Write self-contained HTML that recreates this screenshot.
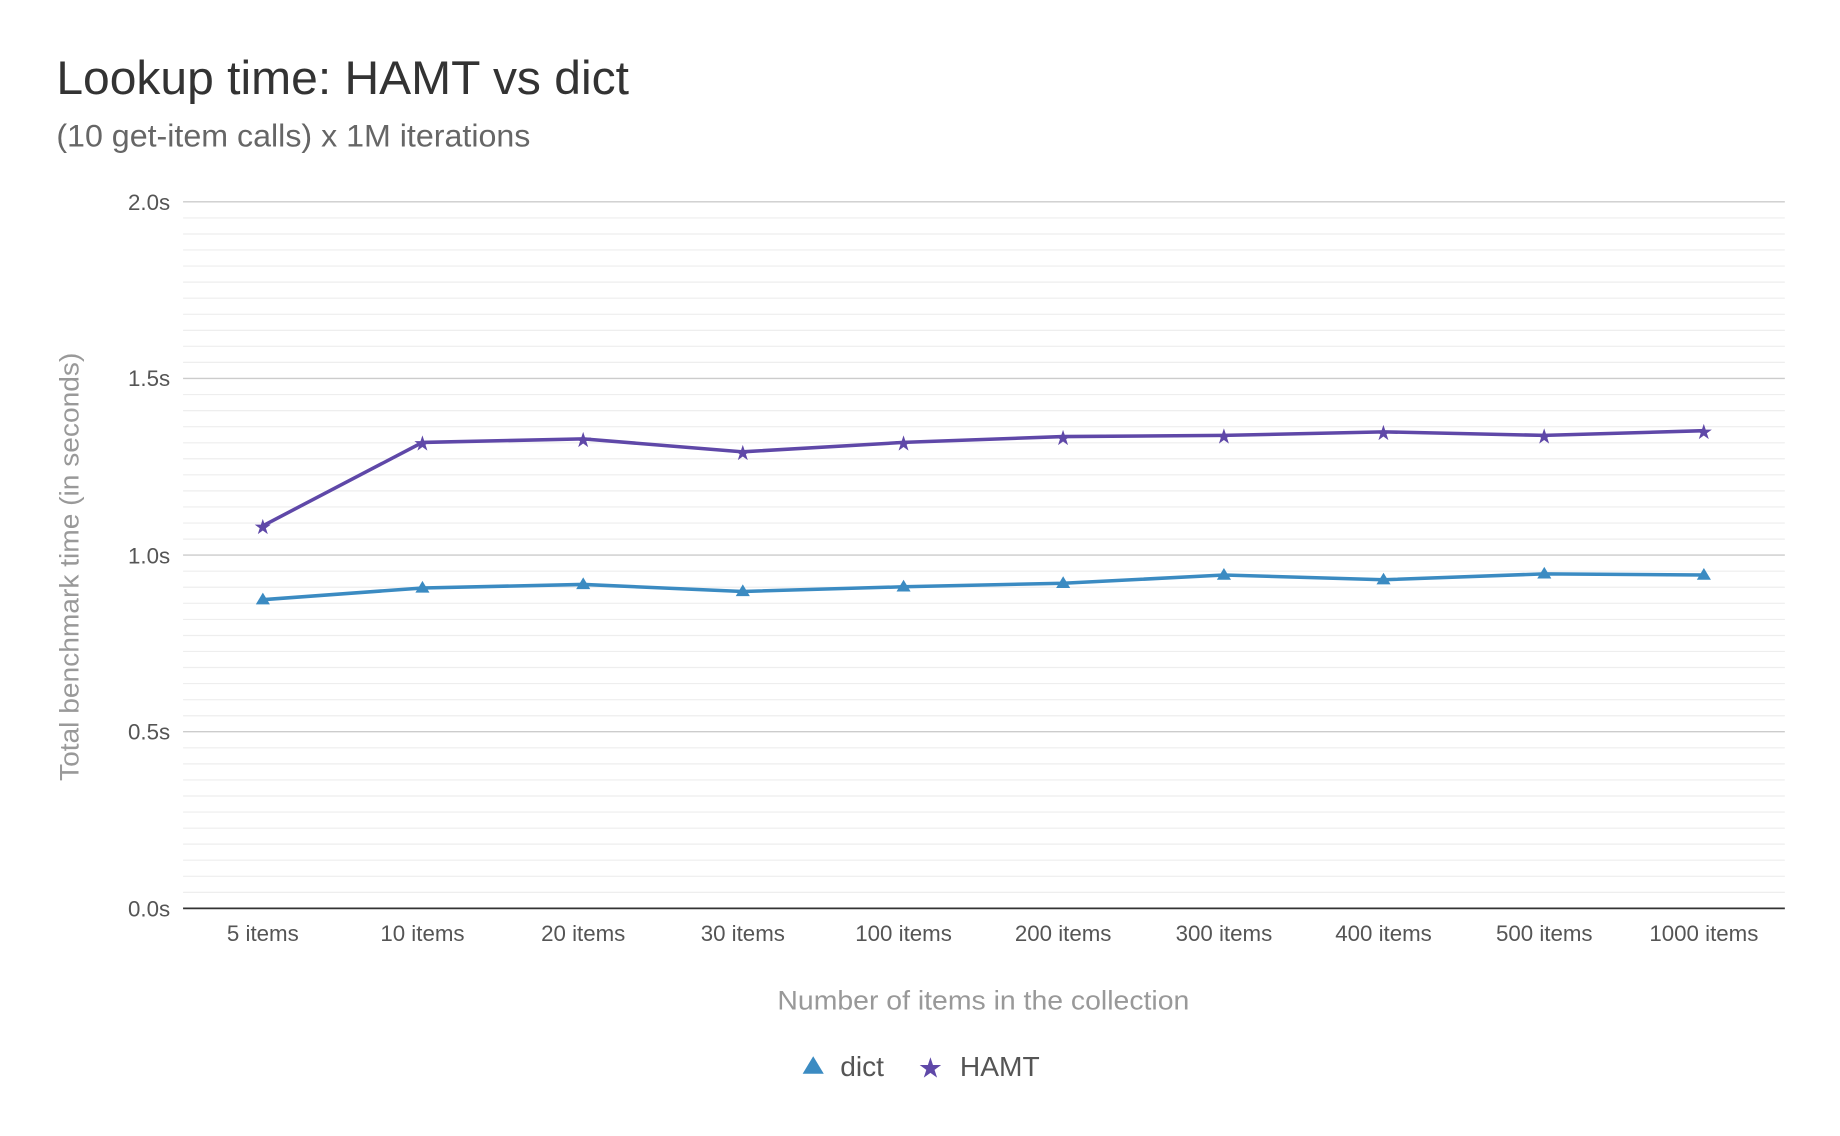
<!DOCTYPE html>
<html><head><style>html,body{margin:0;padding:0;background:#fff;}svg{display:block}</style></head>
<body>
<svg width="1840" height="1136" viewBox="0 0 1568 968" preserveAspectRatio="none" xmlns="http://www.w3.org/2000/svg" font-family="Liberation Sans, sans-serif">
<rect width="1568" height="968" fill="#fff"/>
<text x="48" y="80" font-size="40" fill="#333" textLength="488" lengthAdjust="spacingAndGlyphs">Lookup time: HAMT vs dict</text>
<text x="48" y="125" font-size="27" fill="#666" textLength="404" lengthAdjust="spacingAndGlyphs">(10 get-item calls) x 1M iterations</text>
<g stroke="#eeeeee" stroke-width="1">
<line x1="156" x2="1521" y1="185.7" y2="185.7"/><line x1="156" x2="1521" y1="199.4" y2="199.4"/><line x1="156" x2="1521" y1="213.0" y2="213.0"/><line x1="156" x2="1521" y1="226.7" y2="226.7"/><line x1="156" x2="1521" y1="240.4" y2="240.4"/><line x1="156" x2="1521" y1="254.1" y2="254.1"/><line x1="156" x2="1521" y1="267.8" y2="267.8"/><line x1="156" x2="1521" y1="281.5" y2="281.5"/><line x1="156" x2="1521" y1="295.1" y2="295.1"/><line x1="156" x2="1521" y1="308.8" y2="308.8"/>
<line x1="156" x2="1521" y1="336.2" y2="336.2"/><line x1="156" x2="1521" y1="349.9" y2="349.9"/><line x1="156" x2="1521" y1="363.6" y2="363.6"/><line x1="156" x2="1521" y1="377.3" y2="377.3"/><line x1="156" x2="1521" y1="390.9" y2="390.9"/><line x1="156" x2="1521" y1="404.6" y2="404.6"/><line x1="156" x2="1521" y1="418.3" y2="418.3"/><line x1="156" x2="1521" y1="432.0" y2="432.0"/><line x1="156" x2="1521" y1="445.7" y2="445.7"/><line x1="156" x2="1521" y1="459.4" y2="459.4"/>
<line x1="156" x2="1521" y1="486.7" y2="486.7"/><line x1="156" x2="1521" y1="500.4" y2="500.4"/><line x1="156" x2="1521" y1="514.1" y2="514.1"/><line x1="156" x2="1521" y1="527.8" y2="527.8"/><line x1="156" x2="1521" y1="541.5" y2="541.5"/><line x1="156" x2="1521" y1="555.1" y2="555.1"/><line x1="156" x2="1521" y1="568.8" y2="568.8"/><line x1="156" x2="1521" y1="582.5" y2="582.5"/><line x1="156" x2="1521" y1="596.2" y2="596.2"/><line x1="156" x2="1521" y1="609.9" y2="609.9"/>
<line x1="156" x2="1521" y1="637.2" y2="637.2"/><line x1="156" x2="1521" y1="650.9" y2="650.9"/><line x1="156" x2="1521" y1="664.6" y2="664.6"/><line x1="156" x2="1521" y1="678.3" y2="678.3"/><line x1="156" x2="1521" y1="692.0" y2="692.0"/><line x1="156" x2="1521" y1="705.7" y2="705.7"/><line x1="156" x2="1521" y1="719.3" y2="719.3"/><line x1="156" x2="1521" y1="733.0" y2="733.0"/><line x1="156" x2="1521" y1="746.7" y2="746.7"/><line x1="156" x2="1521" y1="760.4" y2="760.4"/>
</g>
<g stroke="#cccccc" stroke-width="1.2">
<line x1="156" x2="1521" y1="172" y2="172"/><line x1="156" x2="1521" y1="322.5" y2="322.5"/><line x1="156" x2="1521" y1="473" y2="473"/><line x1="156" x2="1521" y1="623.5" y2="623.5"/>
</g>
<line x1="156" x2="1521" y1="774" y2="774" stroke="#333" stroke-width="1.5"/>
<g font-size="19" fill="#555" text-anchor="end">
<text x="145" y="179">2.0s</text><text x="145" y="329">1.5s</text><text x="145" y="480">1.0s</text><text x="145" y="630">0.5s</text><text x="145" y="781">0.0s</text>
</g>
<g font-size="19" fill="#555" text-anchor="middle">
<text x="224" y="802">5 items</text><text x="360" y="802">10 items</text><text x="497" y="802">20 items</text><text x="633" y="802">30 items</text><text x="770" y="802">100 items</text><text x="906" y="802">200 items</text><text x="1043" y="802">300 items</text><text x="1179" y="802">400 items</text><text x="1316" y="802">500 items</text><text x="1452" y="802">1000 items</text>
</g>
<text x="838" y="860" font-size="23" fill="#999" text-anchor="middle" textLength="351" lengthAdjust="spacingAndGlyphs">Number of items in the collection</text>
<text transform="translate(67,483) rotate(-90)" font-size="23" fill="#999" text-anchor="middle" textLength="365" lengthAdjust="spacingAndGlyphs">Total benchmark time (in seconds)</text>
<polyline fill="none" stroke="#5f48a8" stroke-width="3" points="224,448 360,377 497,374 633,385 770,377 906,372 1043,371 1179,368 1316,371 1452,367"/>
<polyline fill="none" stroke="#3b8bc2" stroke-width="3" points="224,511 360,501 497,498 633,504 770,500 906,497 1043,490 1179,494 1316,489 1452,490"/>
<g fill="#5f48a8" font-size="18" text-anchor="middle">
<text x="224" y="455">★</text><text x="360" y="384">★</text><text x="497" y="381">★</text><text x="633" y="392">★</text><text x="770" y="384">★</text><text x="906" y="379">★</text><text x="1043" y="378">★</text><text x="1179" y="375">★</text><text x="1316" y="378">★</text><text x="1452" y="374">★</text>
</g>
<g fill="#3b8bc2">
<path d="M224,505 l6,10 h-12z"/><path d="M360,495 l6,10 h-12z"/><path d="M497,492 l6,10 h-12z"/><path d="M633,498 l6,10 h-12z"/><path d="M770,494 l6,10 h-12z"/><path d="M906,491 l6,10 h-12z"/><path d="M1043,484 l6,10 h-12z"/><path d="M1179,488 l6,10 h-12z"/><path d="M1316,483 l6,10 h-12z"/><path d="M1452,484 l6,10 h-12z"/>
</g>
<path d="M693,900 l9,15 h-18z" fill="#3b8bc2"/>
<text x="716" y="917" font-size="24" fill="#555">dict</text>
<text x="793" y="918" font-size="24" fill="#5f48a8" text-anchor="middle">★</text>
<text x="818" y="917" font-size="24" fill="#555">HAMT</text>
</svg>
</body></html>
